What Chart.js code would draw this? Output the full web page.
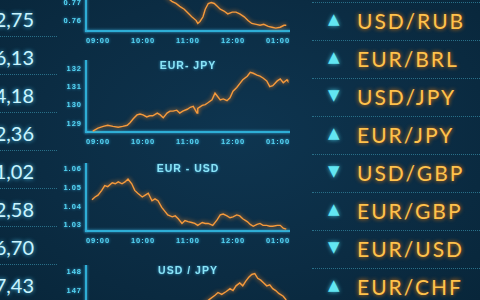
<!DOCTYPE html>
<html>
<head>
<meta charset="utf-8">
<script src="https://cdn.jsdelivr.net/npm/chart.js@4.4.1/dist/chart.umd.min.js"></script>
<style>
  html, body { margin: 0; padding: 0; }
  body {
    width: 480px; height: 300px; overflow: hidden; position: relative;
    background: radial-gradient(ellipse at 50% 45%, #0e3550 0%, #0b2c43 60%, #08263a 100%);
    font-family: Lato, sans-serif;
  }
  .panel { position: absolute; left: 60px; width: 230px; }
  .rate {
    position: absolute; right: 446px; font-size: 20px; line-height: 20px;
    color: #c8f4ff; text-shadow: 0 0 4px rgba(80, 210, 255, 0.9); white-space: nowrap;
  }
  .sep { position: absolute; height: 0; border-top: 1px dotted #286f88; }
  .arrow {
    position: absolute; left: 328px; font-family: "DejaVu Sans"; font-size: 15px; line-height: 15px;
    color: #62e6f2; text-shadow: 0 0 4px rgba(80, 230, 255, 0.8);
  }
  .pair {
    position: absolute; left: 357px; font-size: 21px; line-height: 21px; letter-spacing: 2px;
    color: #ffc24c; text-shadow: 0 0 4px rgba(255, 130, 0, 0.95); white-space: nowrap;
  }
</style>
</head>
<body>
<div class="panel" style="top:-41px;height:91px"><canvas id="chartTop"></canvas></div>
<div class="panel" style="top:60px;height:91px"><canvas id="chartEurJpy"></canvas></div>
<div class="panel" style="top:163px;height:87px"><canvas id="chartEurUsd"></canvas></div>
<div class="panel" style="top:265px;height:91px"><canvas id="chartUsdJpy"></canvas></div>
<script>
const rateValues = ['2,75', '6,13', '4,18', '2,36', '1,02', '2,58', '6,70', '7,43'];
const pairNames = ['USD/RUB', 'EUR/BRL', 'USD/JPY', 'EUR/JPY', 'USD/GBP', 'EUR/GBP', 'EUR/USD', 'EUR/CHF'];
const pairMoves = ['up', 'up', 'down', 'up', 'down', 'up', 'down', 'up'];

const hourTicks = [0, 60, 120, 180, 240];
const hourLabels = ['09:00', '10:00', '11:00', '12:00', '01:00'];

// chart cut off at the top of the picture
const topMinutes = [83, 93, 99, 104, 109, 115, 120, 125, 131, 133, 136, 140, 143, 147, 151, 155, 159, 163, 168, 173,
  179, 184, 189, 195, 200, 205, 211, 216, 221, 227, 232, 237, 243, 248, 251];
const topValues = [0.7768, 0.7726, 0.7705, 0.7695, 0.7679, 0.7663, 0.7642, 0.7621, 0.7600, 0.7584, 0.7595, 0.7621,
  0.7663, 0.7695, 0.7700, 0.7695, 0.7679, 0.7663, 0.7653, 0.7637, 0.7647, 0.7647, 0.7637, 0.7621, 0.7600, 0.7584,
  0.7579, 0.7574, 0.7579, 0.7568, 0.7563, 0.7558, 0.7563, 0.7574, 0.7574];
const topTicks = [0.76, 0.77, 0.78, 0.79];

const eurJpyMinutes = [-7, 0, 7, 13, 20, 27, 33, 39, 43, 47, 52, 56, 60, 65, 69, 73, 79, 83, 87, 92,
  96, 100, 105, 109, 113, 119, 123, 127, 132, 133, 139, 143, 147, 152, 156, 159, 163, 167, 172, 176,
  180, 185, 189, 193, 199, 203, 207, 212, 216, 220, 225, 229, 233, 239, 243, 247, 252, 253];
const eurJpyValues = [128.58, 128.74, 128.84, 128.90, 128.84, 128.79, 128.84, 128.90, 129.05, 129.26,
  129.47, 129.52, 129.47, 129.36, 129.42, 129.42, 129.57, 129.47, 129.31, 129.57,
  129.68, 129.68, 129.73, 129.57, 129.68, 129.78, 129.89, 129.94, 129.57, 129.83,
  129.99, 130.04, 130.15, 130.30, 130.67, 130.51, 130.30, 130.35, 130.25, 130.41,
  130.77, 130.98, 131.19, 131.40, 131.60, 131.81, 131.76, 131.66, 131.60, 131.50,
  131.34, 131.03, 131.08, 131.34, 131.45, 131.24, 131.40, 131.34];
const eurJpyTicks = [129, 130, 131, 132];

const eurUsdMinutes = [-8, -4, 0, 5, 9, 13, 19, 23, 27, 32, 36, 40, 45, 49, 53, 59, 63, 67, 72, 76,
  80, 85, 89, 93, 99, 103, 107, 112, 116, 120, 125, 129, 133, 139, 143, 147, 153, 159, 163, 167,
  172, 176, 180, 185, 189, 193, 199, 203, 207, 212, 216, 220, 225, 229, 233, 239, 243, 247, 251];
const eurUsdValues = [1.0435, 1.0450, 1.0460, 1.0485, 1.0510, 1.0505, 1.0525, 1.0520, 1.0530, 1.0520,
  1.0530, 1.0545, 1.0520, 1.0485, 1.0470, 1.0450, 1.0460, 1.0470, 1.0430, 1.0440,
  1.0430, 1.0395, 1.0375, 1.0355, 1.0345, 1.0350, 1.0335, 1.0310, 1.0325, 1.0320,
  1.0315, 1.0310, 1.0300, 1.0315, 1.0310, 1.0310, 1.0300, 1.0330, 1.0355, 1.0360,
  1.0350, 1.0340, 1.0345, 1.0355, 1.0350, 1.0335, 1.0320, 1.0305, 1.0295, 1.0305,
  1.0310, 1.0300, 1.0300, 1.0295, 1.0295, 1.0300, 1.0300, 1.0285, 1.0280];
const eurUsdTicks = [1.03, 1.04, 1.05, 1.06];

const usdJpyMinutes = [135, 143, 149, 156, 160, 165, 171, 176, 180, 184, 189, 193, 197, 201, 205, 209, 213,
  217, 221, 225, 229, 233, 237, 241, 247, 251];
const usdJpyValues = [146.10, 146.35, 146.55, 146.75, 146.90, 146.80, 146.95, 147.10, 147.00, 147.25, 147.40,
  147.25, 147.50, 147.70, 147.85, 147.90, 147.65, 147.55, 147.40, 147.25, 147.30, 147.10, 147.00, 146.85,
  146.70, 146.50];
const usdJpyTicks = [145, 146, 147, 148];

// side columns
rateValues.forEach((v, i) => {
  const el = document.createElement('div');
  el.className = 'rate';
  el.textContent = v;
  el.style.top = (9 + i * 38) + 'px';
  document.body.appendChild(el);
  if (i < rateValues.length - 1) {
    const s = document.createElement('div');
    s.className = 'sep';
    s.style.cssText = 'left:0;width:57px;top:' + (36 + i * 38) + 'px';
    document.body.appendChild(s);
  }
});
pairNames.forEach((name, i) => {
  const s = document.createElement('div');
  s.className = 'sep';
  s.style.cssText = 'left:312px;width:168px;top:' + (2 + i * 38) + 'px';
  document.body.appendChild(s);
  const a = document.createElement('div');
  a.className = 'arrow';
  a.textContent = pairMoves[i] === 'up' ? '▲' : '▼';
  a.style.top = (12 + i * 38) + 'px';
  document.body.appendChild(a);
  const p = document.createElement('div');
  p.className = 'pair';
  p.textContent = name;
  p.style.top = (10 + i * 38) + 'px';
  document.body.appendChild(p);
});

const glow = {
  id: 'glow',
  beforeLayout(chart) { chart.ctx.letterSpacing = '1px'; },
  beforeDraw(chart) {
    const c = chart.ctx;
    c.letterSpacing = '1px';
    c.shadowColor = 'rgba(70, 200, 255, 0.8)';
    c.shadowBlur = 3;
  },
  beforeDatasetsDraw(chart) {
    const c = chart.ctx;
    c.save();
    c.shadowColor = 'rgba(255, 140, 40, 0.9)';
    c.shadowBlur = 4;
  },
  afterDatasetsDraw(chart) { chart.ctx.restore(); }
};

const axisColor = '#2eaed6';
const tickColor = '#55d6f4';
const tickFont = { family: 'Liberation Sans', size: 7.5, weight: 'bold' };

function makeChart(id, title, minutes, values, yTicks, yMin, yMax, decimals) {
  return new Chart(document.getElementById(id), {
    type: 'line',
    data: {
      datasets: [{
        data: minutes.map((m, i) => ({ x: m, y: values[i] })),
        borderColor: '#f59a3c',
        borderWidth: 1.4,
        pointRadius: 0,
        tension: 0,
        fill: false
      }]
    },
    options: {
      animation: false,
      responsive: true,
      maintainAspectRatio: false,
      layout: { padding: 0 },
      plugins: {
        legend: { display: false },
        tooltip: { enabled: false },
        title: {
          display: !!title,
          text: title,
          fullSize: false,
          color: '#8ae4f7',
          font: { family: 'Liberation Sans', size: 10.5, weight: 'bold' },
          padding: { top: 0, bottom: -12.6 }
        }
      },
      scales: {
        x: {
          type: 'linear', min: -16, max: 256,
          grid: { display: false, drawTicks: false },
          border: { color: axisColor, width: 2 },
          afterBuildTicks: s => { s.ticks = hourTicks.map(v => ({ value: v })); },
          afterFit: s => { s.paddingLeft = 0; s.paddingRight = 0; },
          ticks: {
            color: tickColor, font: tickFont, padding: 5, maxRotation: 0, autoSkip: false,
            callback: v => hourLabels[hourTicks.indexOf(v)]
          }
        },
        y: {
          min: yMin, max: yMax,
          grid: { display: false, drawTicks: false },
          border: { color: axisColor, width: 2 },
          afterBuildTicks: s => { s.ticks = yTicks.map(v => ({ value: v })); },
          afterFit: s => { s.width = 26; s.paddingTop = 0; s.paddingBottom = 0; },
          ticks: { color: tickColor, font: tickFont, padding: 4, callback: v => v.toFixed(decimals) }
        }
      }
    },
    plugins: [glow]
  });
}

makeChart('chartTop', '', topMinutes, topValues, topTicks, 0.75421, 0.7942, 2);
makeChart('chartEurJpy', 'EUR- JPY', eurJpyMinutes, eurJpyValues, eurJpyTicks, 128.53, 132.49, 0);
makeChart('chartEurUsd', 'EUR - USD', eurUsdMinutes, eurUsdValues, eurUsdTicks, 1.027, 1.063, 2);
makeChart('chartUsdJpy', 'USD / JPY', usdJpyMinutes, usdJpyValues, usdJpyTicks, 144.55, 148.35, 0);
</script>
</body>
</html>
